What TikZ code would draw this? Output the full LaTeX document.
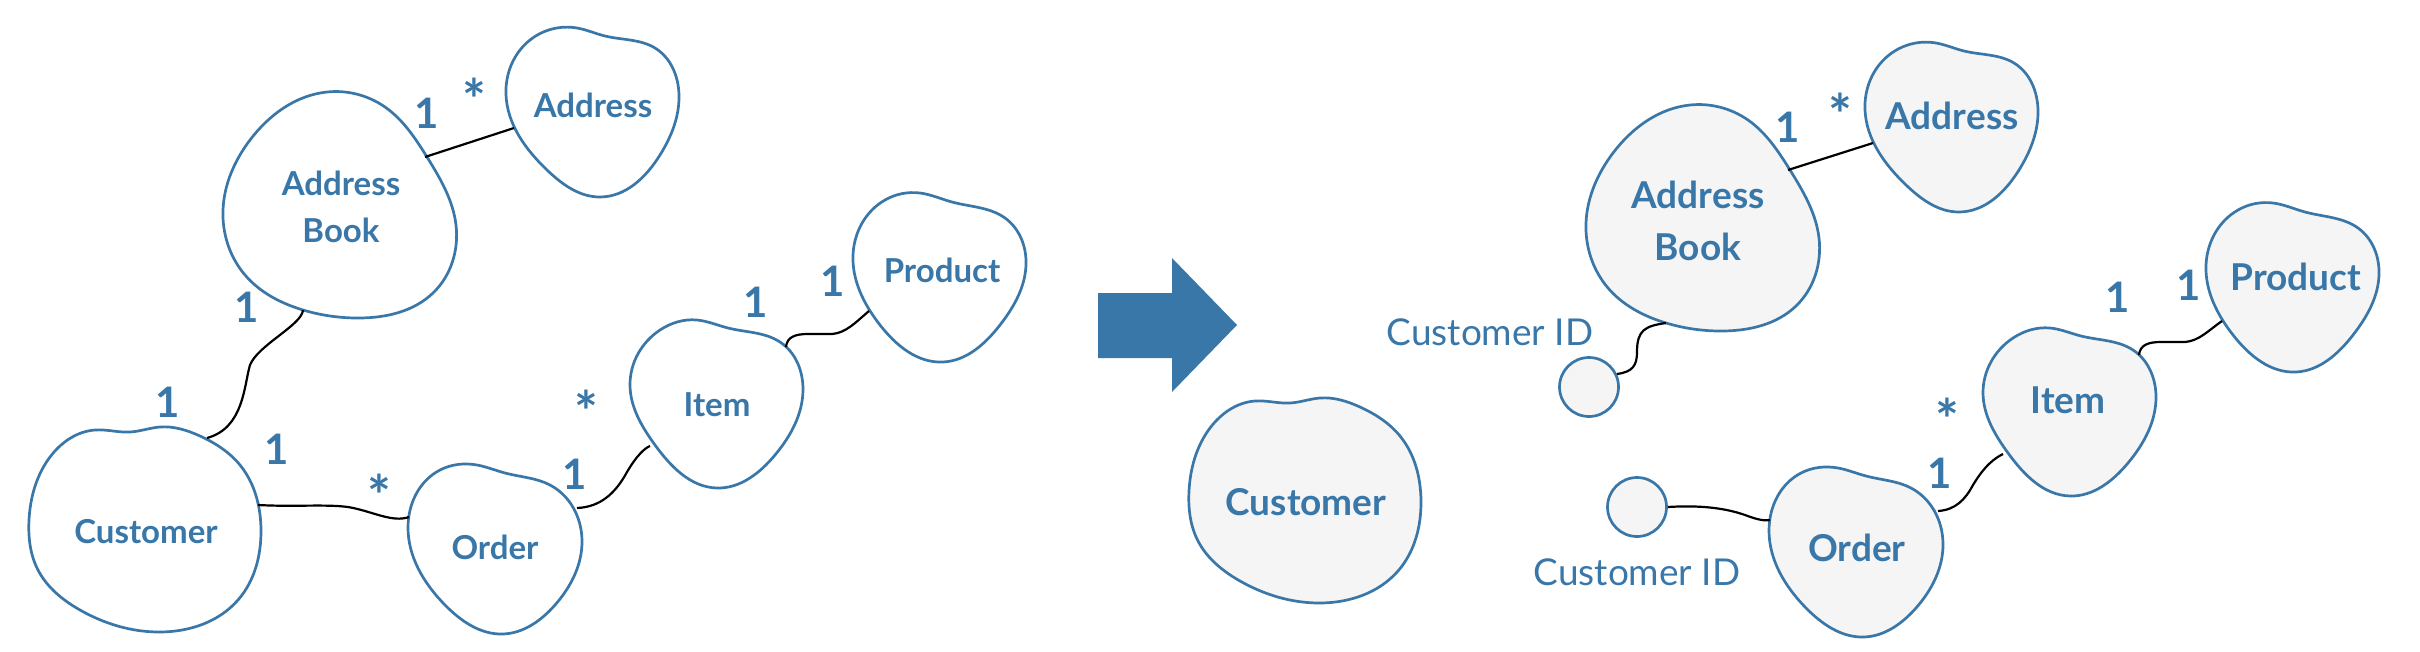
\documentclass[tikz,border=0pt]{standalone}
\usepackage{fontspec}
\usetikzlibrary{hobby}
\newfontfamily\lato{Lato}
\definecolor{myblue}{HTML}{3A77A9}
\definecolor{mygray}{HTML}{F5F5F5}

\newcommand\blCustomer[2]{%
  \path[#1] plot[closed hobby] coordinates {(29,520) (50,457) (95,430) (130,432) (160,427) (200,436) (240,465) (261,530) (238,600) (160,632) (80,610) (38,570)};
  \coordinate (#2a) at (207,438);
  \coordinate (#2b) at (258,505);
}
\newcommand\blAB[2]{%
  \path[#1] plot[closed hobby] coordinates {(223,210) (250,140) (327,92) (385,107) (427,157) (456,225) (433,293) (360,318) (303,310) (245,275)};
  \coordinate (#2a) at (425,157);
  \coordinate (#2b) at (303,310);
}
\newcommand\blAddress[2]{%
  \path[#1] plot[closed hobby] coordinates {(506,95) (530,40) (577,28) (605,36) (655,48) (679,95) (660,155) (600,197) (547,170)};
  \coordinate (#2a) at (514,128);
}
\newcommand\blOrder[2]{%
  \path[#1] plot[closed hobby] coordinates {(408,527) (440,470) (477,465) (505,473) (550,485) (582,540) (555,605) (503,634) (445,605)};
  \coordinate (#2a) at (409,517);
  \coordinate (#2b) at (577,508);
}
\newcommand\blItem[2]{%
  \path[#1] plot[closed hobby] coordinates {(630,385) (660,330) (697,320) (728,328) (780,342) (803,390) (775,455) (717,488) (655,445)};
  \coordinate (#2a) at (650,446);
  \coordinate (#2b) at (786,347);
}
\newcommand\blProduct[2]{%
  \path[#1] plot[closed hobby] coordinates {(853,255) (885,200) (920,193) (952,202) (1005,218) (1026,265) (1000,325) (943,362) (880,325)};
  \coordinate (#2a) at (869,311);
}

\begin{document}
\begin{tikzpicture}[x=1pt,y=-1pt,
  blobL/.style={draw=myblue,line width=2.7pt,fill=white},
  blobR/.style={draw=myblue,line width=2.7pt,fill=mygray},
  conn/.style={draw=black,line width=2.2pt},
  txtL/.style={text=myblue,inner sep=0pt,align=center,font=\lato\bfseries\fontsize{33}{47}\selectfont},
  txtR/.style={text=myblue,inner sep=0pt,align=center,font=\lato\bfseries\fontsize{37}{52}\selectfont},
  mult/.style={text=myblue,inner sep=0pt,font=\lato\bfseries\fontsize{42}{48}\selectfont},
  star/.style={text=myblue,inner sep=0pt,font=\lato\bfseries\fontsize{56}{60}\selectfont},
  cidlabel/.style={text=myblue,inner sep=0pt,font=\lato\fontsize{37}{44}\selectfont},
  cidc/.style={circle,draw=myblue,fill=mygray,line width=2.7pt,minimum size=59pt,inner sep=0pt},
  bigarrow/.style={fill=myblue}]
\useasboundingbox (0,0) rectangle (2420,651);

% ---------- left diagram ----------
\blCustomer{blobL}{cL}
\blAB{blobL}{abL}
\blAddress{blobL}{adL}
\blOrder{blobL}{orL}
\blItem{blobL}{itL}
\blProduct{blobL}{prL}

\node[txtL] (custL) at (146,532) {Customer};
\node[txtL] (abookL) at (341,207) {Address\\Book};
\node[txtL] (addrL) at (593,105) {Address};
\node[txtL] (orderL) at (495,547) {Order};
\node[txtL] (itemL) at (717,405) {Item};
\node[txtL] (prodL) at (942,270) {Product};

\draw[conn] (abLa) -- (adLa);
\draw[conn] (abLb) .. controls (302,325) and (258,345) .. (250,365) .. controls (244,385) and (244,428) .. (cLa);
\draw[conn] (cLb) .. controls (295,507) and (325,504) .. (348,507) .. controls (372,511) and (392,523) .. (orLa);
\draw[conn] (orLb) .. controls (600,507) and (615,494) .. (627,472) .. controls (637,455) and (645,448) .. (itLa);
\draw[conn] (itLb) .. controls (787,337) and (795,334) .. (808,334) -- (832,334) .. controls (846,333) and (856,322) .. (prLa);

\node[mult] (m1) at (427,113) {1};
\node[star] (m2) at (474,99) {*};
\node[mult] (m3) at (247,307) {1};
\node[mult] (m4) at (168,402) {1};
\node[mult] (m5) at (277,449) {1};
\node[star] (m6) at (379,495) {*};
\node[mult] (m7) at (575,474) {1};
\node[star] (m8) at (586,411) {*};
\node[mult] (m9) at (756,302) {1};
\node[mult] (m10) at (833,281) {1};

% ---------- arrow ----------
\fill[bigarrow] (1098,293) -- (1172,293) -- (1172,258) -- (1237,325) -- (1172,392) -- (1172,358) -- (1098,358) -- cycle;

% ---------- right diagram ----------
\begin{scope}[shift={(1160,-29)}]\blCustomer{blobR}{cR}\end{scope}
\begin{scope}[shift={(1363,13)}]\blAB{blobR}{abR}\end{scope}
\begin{scope}[shift={(1359,15)}]\blAddress{blobR}{adR}\end{scope}
\begin{scope}[shift={(1361,3)}]\blOrder{blobR}{orR}\end{scope}
\begin{scope}[shift={(1353,8)}]\blItem{blobR}{itR}\end{scope}
\begin{scope}[shift={(1353,10)}]\blProduct{blobR}{prR}\end{scope}

\node[txtR] (custR) at (1306,502) {Customer};
\node[txtR] (abookR) at (1698,221) {Address\\Book};
\node[txtR] (addrR) at (1952,116) {Address};
\node[txtR] (orderR) at (1857,548) {Order};
\node[txtR] (itemR) at (2068,400) {Item};
\node[txtR] (prodR) at (2296,277) {Product};

\node[cidc] (cid1) at (1589,387) {};
\node[cidc] (cid2) at (1637,507) {};
\node[cidlabel] (cidl1) at (1490,332) {Customer ID};
\node[cidlabel] (cidl2) at (1637,572) {Customer ID};

\draw[conn] (abRa) -- (adRa);
\draw[conn] (cid1.25) .. controls (1633,372) and (1637,365) .. (1637,352) .. controls (1637,330) and (1645,326) .. (abRb);
\draw[conn] (cid2.east) .. controls (1700,505) and (1725,508) .. (1745,515) .. controls (1758,520) and (1765,521) .. (orRa);
\draw[conn] (orRb) .. controls (1955,510) and (1965,500) .. (1973,485) .. controls (1985,465) and (1995,458) .. (itRa);
\begin{scope}[shift={(1353,8)}]
\draw[conn] (itRb) .. controls (787,337) and (795,334) .. (808,334) -- (832,334) .. controls (846,333) and (856,322) .. (prRa);
\end{scope}

\node[mult] (n1) at (1788,127) {1};
\node[star] (n2) at (1840,114) {*};
\node[mult] (n3) at (2118,297) {1};
\node[mult] (n4) at (2189,285) {1};
\node[star] (n5) at (1947,419) {*};
\node[mult] (n6) at (1940,473) {1};
\end{tikzpicture}
\end{document}
